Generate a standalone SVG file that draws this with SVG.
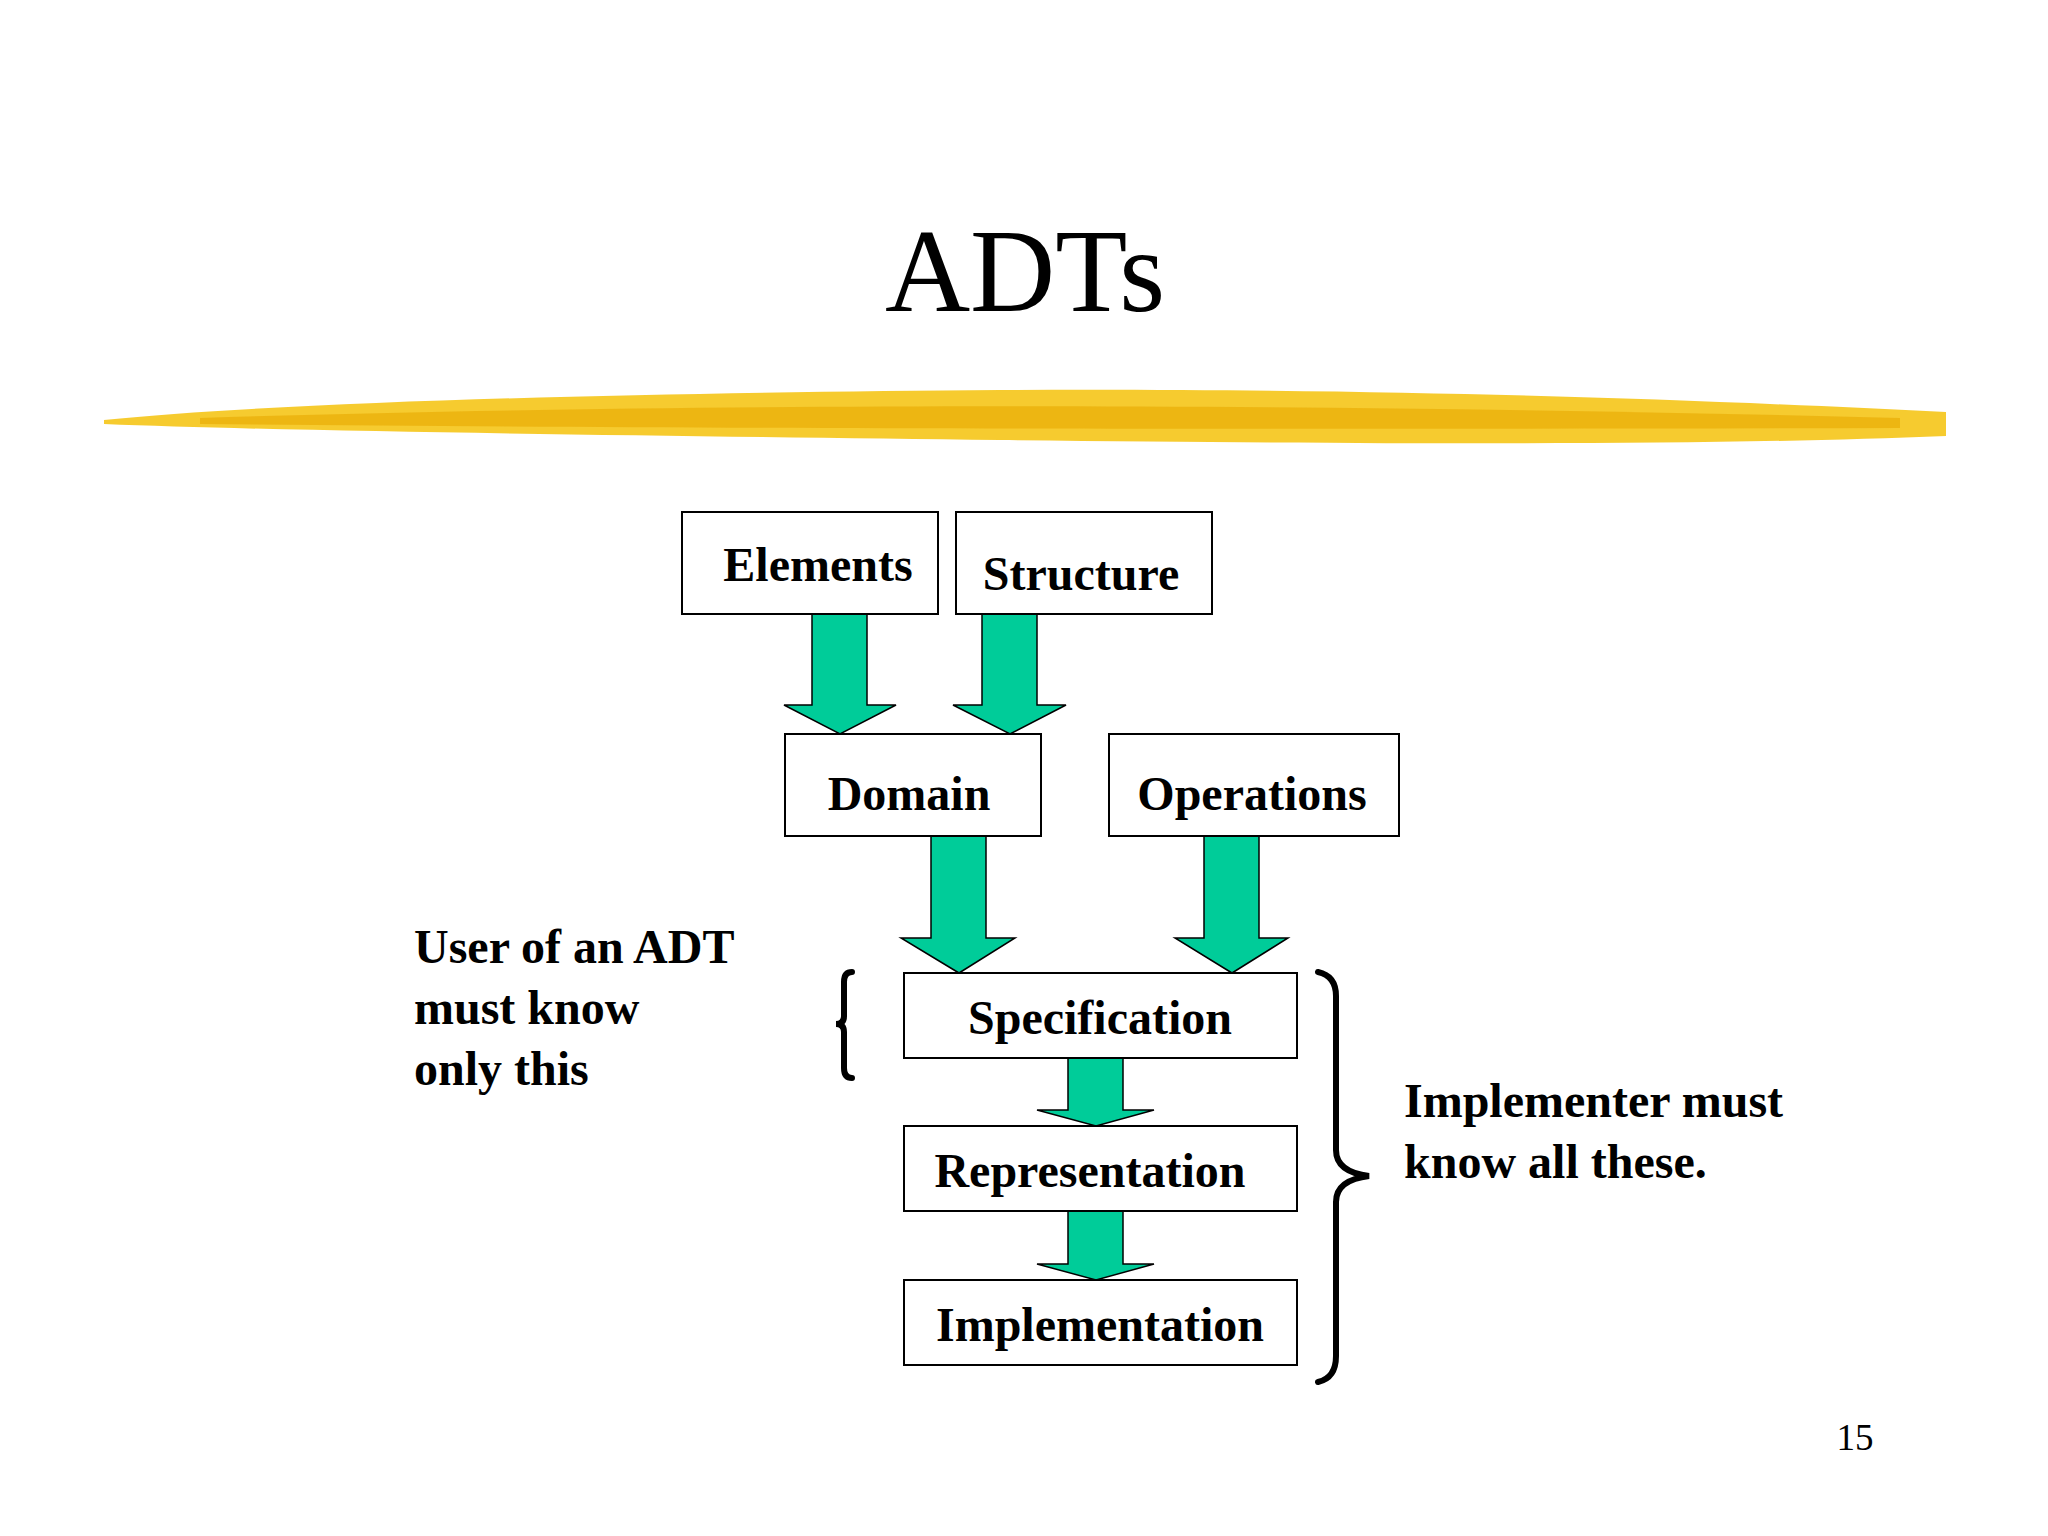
<svg xmlns="http://www.w3.org/2000/svg" width="2048" height="1536" viewBox="0 0 2048 1536">
<style>
.box{fill:#fff;stroke:#000;stroke-width:2}
.t{font-family:"Liberation Serif",serif;font-weight:bold;font-size:48px;fill:#000}
.c{text-anchor:middle}
.ar{fill:#00CC99;stroke:#000;stroke-width:1.5}
.br{fill:none;stroke:#000;stroke-width:6;stroke-linecap:round}
</style>
<rect width="2048" height="1536" fill="#fff"/>
<text x="1025" y="311" text-anchor="middle" font-family="Liberation Serif,serif" font-size="118">ADTs</text>
<path d="M104 420 C300 400 700 392 1000 390 C1400 388 1700 400 1946 412 L1946 436 C1700 446 1400 444 1000 440 C700 436 300 432 104 424 Z" fill="#F5C518" opacity="0.9"/>
<path d="M200 418 C600 405 1200 400 1900 418 L1900 428 C1200 430 600 428 200 424 Z" fill="#E8A800" opacity="0.6"/>
<g id="connectors">
<path class="ar" d="M812 614 H867 V705 H896 L840 734 L784 705 H812 Z"/>
<path class="ar" d="M982 614 H1037 V705 H1066 L1010 734 L953 705 H982 Z"/>
<path class="ar" d="M931 836 H986 V938 H1015 L959 973 L901 938 H931 Z"/>
<path class="ar" d="M1204 836 H1259 V938 H1288 L1232 973 L1175 938 H1204 Z"/>
<path class="ar" d="M1068 1058 H1123 V1110 H1154 L1096 1126 L1037 1110 H1068 Z"/>
<path class="ar" d="M1068 1211 H1123 V1264 H1154 L1096 1280 L1037 1264 H1068 Z"/>
</g>
<g id="elements"><rect class="box" x="682" y="512" width="256" height="102"/><text class="t c" x="818" y="581">Elements</text></g>
<g id="structure"><rect class="box" x="956" y="512" width="256" height="102"/><text class="t c" x="1081" y="590">Structure</text></g>
<g id="domain"><rect class="box" x="785" y="734" width="256" height="102"/><text class="t c" x="909" y="810">Domain</text></g>
<g id="operations"><rect class="box" x="1109" y="734" width="290" height="102"/><text class="t c" x="1252" y="810">Operations</text></g>
<g id="specification"><rect class="box" x="904" y="973" width="393" height="85"/><text class="t c" x="1100" y="1034">Specification</text></g>
<g id="representation"><rect class="box" x="904" y="1126" width="393" height="85"/><text class="t c" x="1090" y="1187">Representation</text></g>
<g id="implementation"><rect class="box" x="904" y="1280" width="393" height="85"/><text class="t c" x="1100" y="1341">Implementation</text></g>
<g id="user-note">
<text class="t" x="414" y="963">User of an ADT</text>
<text class="t" x="414" y="1024">must know</text>
<text class="t" x="414" y="1085">only this</text>
<path class="br" d="M852 972 Q844 972 844 982 V1016 Q844 1024 836 1024 Q844 1024 844 1032 V1068 Q844 1078 852 1078"/>
</g>
<g id="impl-note">
<text class="t" x="1404" y="1117">Implementer must</text>
<text class="t" x="1404" y="1178">know all these.</text>
<path class="br" d="M1318 972 Q1336 976 1336 996 V1150 Q1336 1172 1369 1176 Q1336 1180 1336 1202 V1356 Q1336 1378 1318 1382"/>
</g>
<text x="1855" y="1450" text-anchor="middle" font-family="Liberation Serif,serif" font-size="37">15</text>
</svg>
